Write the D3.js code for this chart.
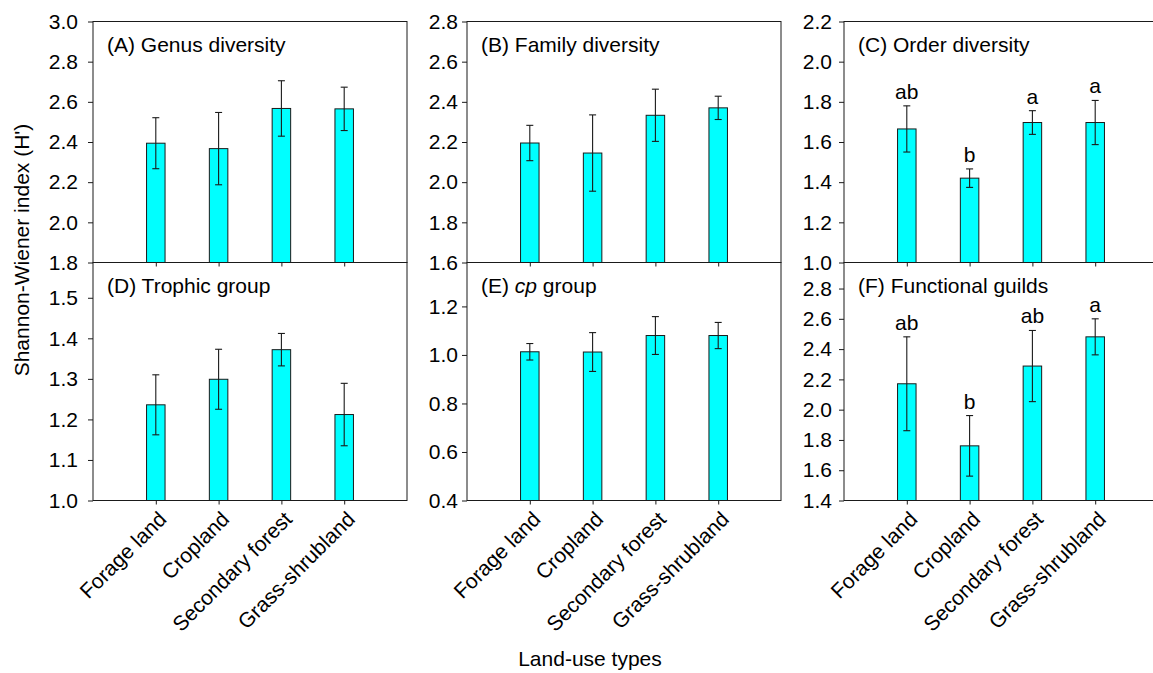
<!DOCTYPE html>
<html>
<head>
<meta charset="utf-8">
<script src="https://cdn.jsdelivr.net/npm/d3@7/dist/d3.min.js"></script>
<style>
  html, body { margin: 0; padding: 0; background: #fff; }
  svg { display: block; }
  text { font-family: Arial, "Liberation Sans", sans-serif; fill: #000; }
</style>
</head>
<body>
<svg id="chart" width="1153" height="673"></svg>
<script>
// ---------- data ----------
const categories = ["Forage land", "Cropland", "Secondary forest", "Grass-shrubland"];

const genusMean  = [2.394, 2.367, 2.567, 2.565];
const genusSE    = [0.127, 0.180, 0.138, 0.108];
const familyMean = [2.195, 2.145, 2.333, 2.370];
const familySE   = [0.088, 0.190, 0.130, 0.058];
const orderMean  = [1.665, 1.420, 1.697, 1.697];
const orderSE    = [0.115, 0.046, 0.059, 0.110];
const orderLetters = ["ab", "b", "a", "a"];
const trophicMean = [1.236, 1.299, 1.372, 1.212];
const trophicSE   = [0.074, 0.074, 0.040, 0.077];
const cpMean = [1.013, 1.012, 1.080, 1.080];
const cpSE   = [0.034, 0.080, 0.078, 0.054];
const guildMean = [2.171, 1.761, 2.288, 2.481];
const guildSE   = [0.310, 0.200, 0.235, 0.119];
const guildLetters = ["ab", "b", "ab", "a"];

const genusDomain   = [1.8, 3.0];
const familyDomain  = [1.6, 2.8];
const orderDomain   = [1.0, 2.2];
const trophicDomain = [1.0, 1.587];
const cpDomain      = [0.4, 1.381];
const guildDomain   = [1.4, 2.972];

const genusTicks   = [1.8, 2.0, 2.2, 2.4, 2.6, 2.8, 3.0];
const familyTicks  = [1.6, 1.8, 2.0, 2.2, 2.4, 2.6, 2.8];
const orderTicks   = [1.0, 1.2, 1.4, 1.6, 1.8, 2.0, 2.2];
const trophicTicks = [1.0, 1.1, 1.2, 1.3, 1.4, 1.5];
const cpTicks      = [0.4, 0.6, 0.8, 1.0, 1.2];
const guildTicks   = [1.4, 1.6, 1.8, 2.0, 2.2, 2.4, 2.6, 2.8];

const titlePrefix = ["(A) ", "(B) ", "(C) ", "(D) ", "(E) ", "(F) "];
const titleBody   = ["Genus diversity", "Family diversity", "Order diversity", "Trophic group", "cp group", "Functional guilds"];

const yAxisTitle = "Shannon-Wiener index (H')";
const xAxisTitle = "Land-use types";

// ---------- layout ----------
const colX = [93, 467, 844];
const colPad = [10, 4, 7];
const panelW = 314;
const rowTop = [21.5, 262.5];
const rowBottom = [262.5, 500.5];

const panels = [
  { mean: genusMean,   se: genusSE,   dom: genusDomain,   ticks: genusTicks,   letters: null,          col: 0, row: 0 },
  { mean: familyMean,  se: familySE,  dom: familyDomain,  ticks: familyTicks,  letters: null,          col: 1, row: 0 },
  { mean: orderMean,   se: orderSE,   dom: orderDomain,   ticks: orderTicks,   letters: orderLetters,  col: 2, row: 0 },
  { mean: trophicMean, se: trophicSE, dom: trophicDomain, ticks: trophicTicks, letters: null,          col: 0, row: 1 },
  { mean: cpMean,      se: cpSE,      dom: cpDomain,      ticks: cpTicks,      letters: null,          col: 1, row: 1 },
  { mean: guildMean,   se: guildSE,   dom: guildDomain,   ticks: guildTicks,   letters: guildLetters,  col: 2, row: 1 }
];

const svg = d3.select("#chart");
const FS = 21;
const lineColor = "#1a1a1a";

panels.forEach((p, i) => {
  const x0 = colX[p.col], y0 = rowTop[p.row], y1 = rowBottom[p.row];
  const g = svg.append("g");

  const x = d3.scalePoint().domain(categories).range([x0, x0 + panelW]).padding(1);
  const y = d3.scaleLinear().domain(p.dom).range([y1, y0]);
  const barW = 18.5;

  // bars
  g.selectAll("rect.bar").data(p.mean).join("rect")
    .attr("class", "bar")
    .attr("x", (d, j) => x(categories[j]) - barW / 2)
    .attr("y", d => y(d))
    .attr("width", barW)
    .attr("height", d => y1 - y(d))
    .attr("fill", "#00ffff")
    .attr("stroke", lineColor)
    .attr("stroke-width", 1);

  // error bars
  const eb = g.selectAll("g.eb").data(p.mean).join("g").attr("class", "eb");
  eb.append("line")
    .attr("x1", (d, j) => x(categories[j])).attr("x2", (d, j) => x(categories[j]))
    .attr("y1", (d, j) => y(d - p.se[j])).attr("y2", (d, j) => y(d + p.se[j]))
    .attr("stroke", lineColor).attr("stroke-width", 1.1);
  eb.append("line")
    .attr("x1", (d, j) => x(categories[j]) - 3.5).attr("x2", (d, j) => x(categories[j]) + 3.5)
    .attr("y1", (d, j) => y(d + p.se[j])).attr("y2", (d, j) => y(d + p.se[j]))
    .attr("stroke", lineColor).attr("stroke-width", 1.1);
  eb.append("line")
    .attr("x1", (d, j) => x(categories[j]) - 3.5).attr("x2", (d, j) => x(categories[j]) + 3.5)
    .attr("y1", (d, j) => y(d - p.se[j])).attr("y2", (d, j) => y(d - p.se[j]))
    .attr("stroke", lineColor).attr("stroke-width", 1.1);

  // significance letters
  if (p.letters) {
    g.selectAll("text.sig").data(p.letters).join("text")
      .attr("class", "sig")
      .attr("x", (d, j) => x(categories[j]))
      .attr("y", (d, j) => y(p.mean[j] + p.se[j]) - 7)
      .attr("text-anchor", "middle")
      .attr("font-size", FS)
      .text(d => d);
  }

  // frame
  g.append("rect")
    .attr("x", x0).attr("y", y0).attr("width", panelW).attr("height", y1 - y0)
    .attr("fill", "none").attr("stroke", lineColor).attr("stroke-width", 1);

  // y axis
  const ya = g.append("g").attr("transform", `translate(${x0},0)`)
    .call(d3.axisLeft(y).tickValues(p.ticks).tickFormat(d3.format(".1f"))
      .tickSize(5).tickPadding(colPad[p.col]).tickSizeOuter(0));
  ya.select(".domain").remove();
  ya.selectAll("line").attr("stroke", lineColor);
  ya.selectAll("text").attr("font-size", FS).attr("font-family", "Arial, 'Liberation Sans', sans-serif");

  // x axis ticks
  const xa = g.append("g").attr("transform", `translate(0,${y1})`)
    .call(d3.axisBottom(x).tickSize(4).tickSizeOuter(0).tickFormat(""));
  xa.select(".domain").remove();
  xa.selectAll("line").attr("stroke", lineColor);

  // category labels for bottom row
  if (p.row === 1) {
    g.selectAll("text.cat").data(categories).join("text")
      .attr("class", "cat")
      .attr("transform", d => `translate(${x(d) + 12},${y1 + 20}) rotate(-45)`)
      .attr("text-anchor", "end")
      .attr("font-size", FS)
      .text(d => d);
  }

  // panel title
  const t = g.append("text")
    .attr("x", x0 + 14).attr("y", y0 + 30)
    .attr("font-size", FS);
  t.append("tspan").text(titlePrefix[i]);
  if (titleBody[i].startsWith("cp ")) {
    t.append("tspan").attr("font-style", "italic").text("cp");
    t.append("tspan").text(" group");
  } else {
    t.append("tspan").text(titleBody[i]);
  }
});

// axis titles
svg.append("text")
  .attr("transform", "translate(29,250) rotate(-90)")
  .attr("text-anchor", "middle")
  .attr("font-size", FS)
  .text(yAxisTitle);

svg.append("text")
  .attr("x", 590).attr("y", 666)
  .attr("text-anchor", "middle")
  .attr("font-size", FS)
  .text(xAxisTitle);
</script>
</body>
</html>
